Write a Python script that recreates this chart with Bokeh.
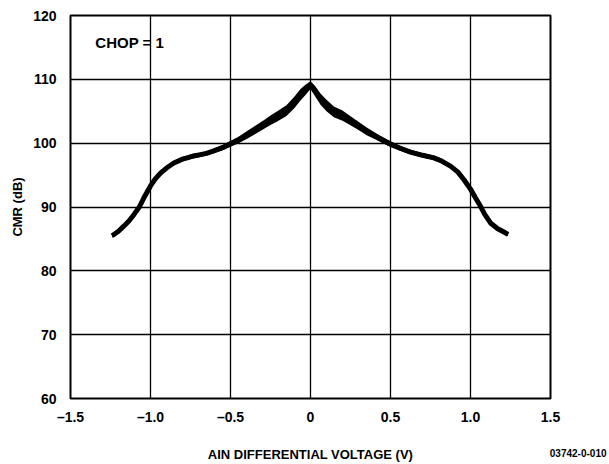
from bokeh.plotting import figure
from bokeh.models import FixedTicker, Label
from bokeh.embed import file_html
from bokeh.resources import INLINE

# AIN differential voltage (V)
ain_v = [-1.24, -1.20, -1.167, -1.135, -1.104, -1.07, -1.042, -1.0, -0.97, -0.9375,
         -0.9, -0.854, -0.8, -0.771, -0.73, -0.6875, -0.65, -0.604, -0.55, -0.5,
         -0.45, -0.396, -0.35, -0.292, -0.25, -0.208, -0.15, -0.1, -0.0625, -0.03,
         0.0, 0.03, 0.0625, 0.1, 0.146, 0.2, 0.25, 0.3, 0.354, 0.42,
         0.496, 0.56, 0.625, 0.7, 0.771, 0.82, 0.875, 0.92, 0.958, 1.0,
         1.03, 1.0625, 1.09, 1.125, 1.17, 1.2, 1.235]
# CMR (dB), centre of the trace
cmr_db = [85.5, 86.2, 87.0, 87.8, 88.8, 90.0, 91.4, 93.3, 94.4, 95.3,
          96.1, 96.9, 97.5, 97.7, 98.0, 98.2, 98.4, 98.8, 99.3, 99.9,
          100.5, 101.3, 102.0, 102.9, 103.6, 104.2, 105.1, 106.4, 107.6, 108.4,
          109.1, 108.1, 106.9, 105.9, 104.9, 104.3, 103.5, 102.7, 101.8, 100.9,
          99.9, 99.2, 98.6, 98.1, 97.7, 97.2, 96.4, 95.5, 94.3, 92.8,
          91.5, 90.1, 88.8, 87.5, 86.6, 86.2, 85.7]
# half-width of the noisy trace (dB)
cmr_spread = [0.3, 0.3, 0.3, 0.3, 0.3, 0.3, 0.3, 0.3, 0.3, 0.3,
              0.3, 0.3, 0.35, 0.35, 0.35, 0.35, 0.35, 0.35, 0.4, 0.45,
              0.5, 0.6, 0.65, 0.7, 0.75, 0.8, 0.85, 0.9, 0.9, 0.8,
              0.6, 0.8, 0.9, 0.9, 0.85, 0.8, 0.7, 0.65, 0.6, 0.5,
              0.45, 0.4, 0.35, 0.35, 0.35, 0.35, 0.3, 0.3, 0.3, 0.3,
              0.3, 0.3, 0.3, 0.3, 0.3, 0.3, 0.3]

x_ticks = [-1.5, -1.0, -0.5, 0.0, 0.5, 1.0, 1.5]
x_tick_labels = ["\u20131.5", "\u20131.0", "\u20130.5", "0", "0.5", "1.0", "1.5"]
y_ticks = [60, 70, 80, 90, 100, 110, 120]

FONT = "Liberation Sans"

p = figure(width=609, height=464, x_range=(-1.5, 1.5), y_range=(60, 120),
           output_backend="svg", toolbar_location=None,
           min_border_left=70, min_border_top=15, min_border_right=59,
           min_border_bottom=66)
p.outline_line_color = "black"
p.outline_line_width = 2
p.background_fill_color = "white"

lo = [c - s for c, s in zip(cmr_db, cmr_spread)]
hi = [c + s for c, s in zip(cmr_db, cmr_spread)]
p.varea(x=ain_v, y1=lo, y2=hi, fill_color="black")
p.line(ain_v, cmr_db, line_color="black", line_width=5)

p.xaxis.ticker = FixedTicker(ticks=x_ticks)
p.xaxis.major_label_overrides = {t: l for t, l in zip(x_ticks, x_tick_labels)}
p.yaxis.ticker = FixedTicker(ticks=y_ticks)

for ax in (p.xaxis[0], p.yaxis[0]):
    ax.axis_line_color = None
    ax.major_tick_line_color = None
    ax.minor_tick_line_color = None
    ax.major_label_text_font = FONT
    ax.major_label_text_font_style = "bold"
    ax.major_label_text_font_size = "14px"
    ax.major_label_text_color = "black"
    ax.axis_label_text_font = FONT
    ax.axis_label_text_font_style = "bold"
    ax.axis_label_text_font_size = "13px"
    ax.axis_label_text_color = "black"

p.xaxis.axis_label = "AIN DIFFERENTIAL VOLTAGE (V)"
p.yaxis.axis_label = "CMR (dB)"
p.xaxis.major_label_standoff = 4
p.yaxis.major_label_standoff = 8
p.xaxis.axis_label_standoff = 19
p.yaxis.axis_label_standoff = 5

for g in (p.xgrid[0], p.ygrid[0]):
    g.grid_line_color = "black"
    g.grid_line_width = 1.3
    g.grid_line_alpha = 1.0

p.add_layout(Label(x=-1.345, y=115.8, text="CHOP = 1", text_font=FONT,
                   text_font_style="bold", text_font_size="15px",
                   text_baseline="middle", text_color="black"))
p.add_layout(Label(x=536, y=-437, x_units="screen", y_units="screen",
                   text="03742-0-010", text_font=FONT,
                   text_font_style="bold", text_font_size="10px",
                   text_align="right", text_baseline="middle", text_color="black"),
             "above")

open("out.html", "w").write(file_html(p, INLINE))
